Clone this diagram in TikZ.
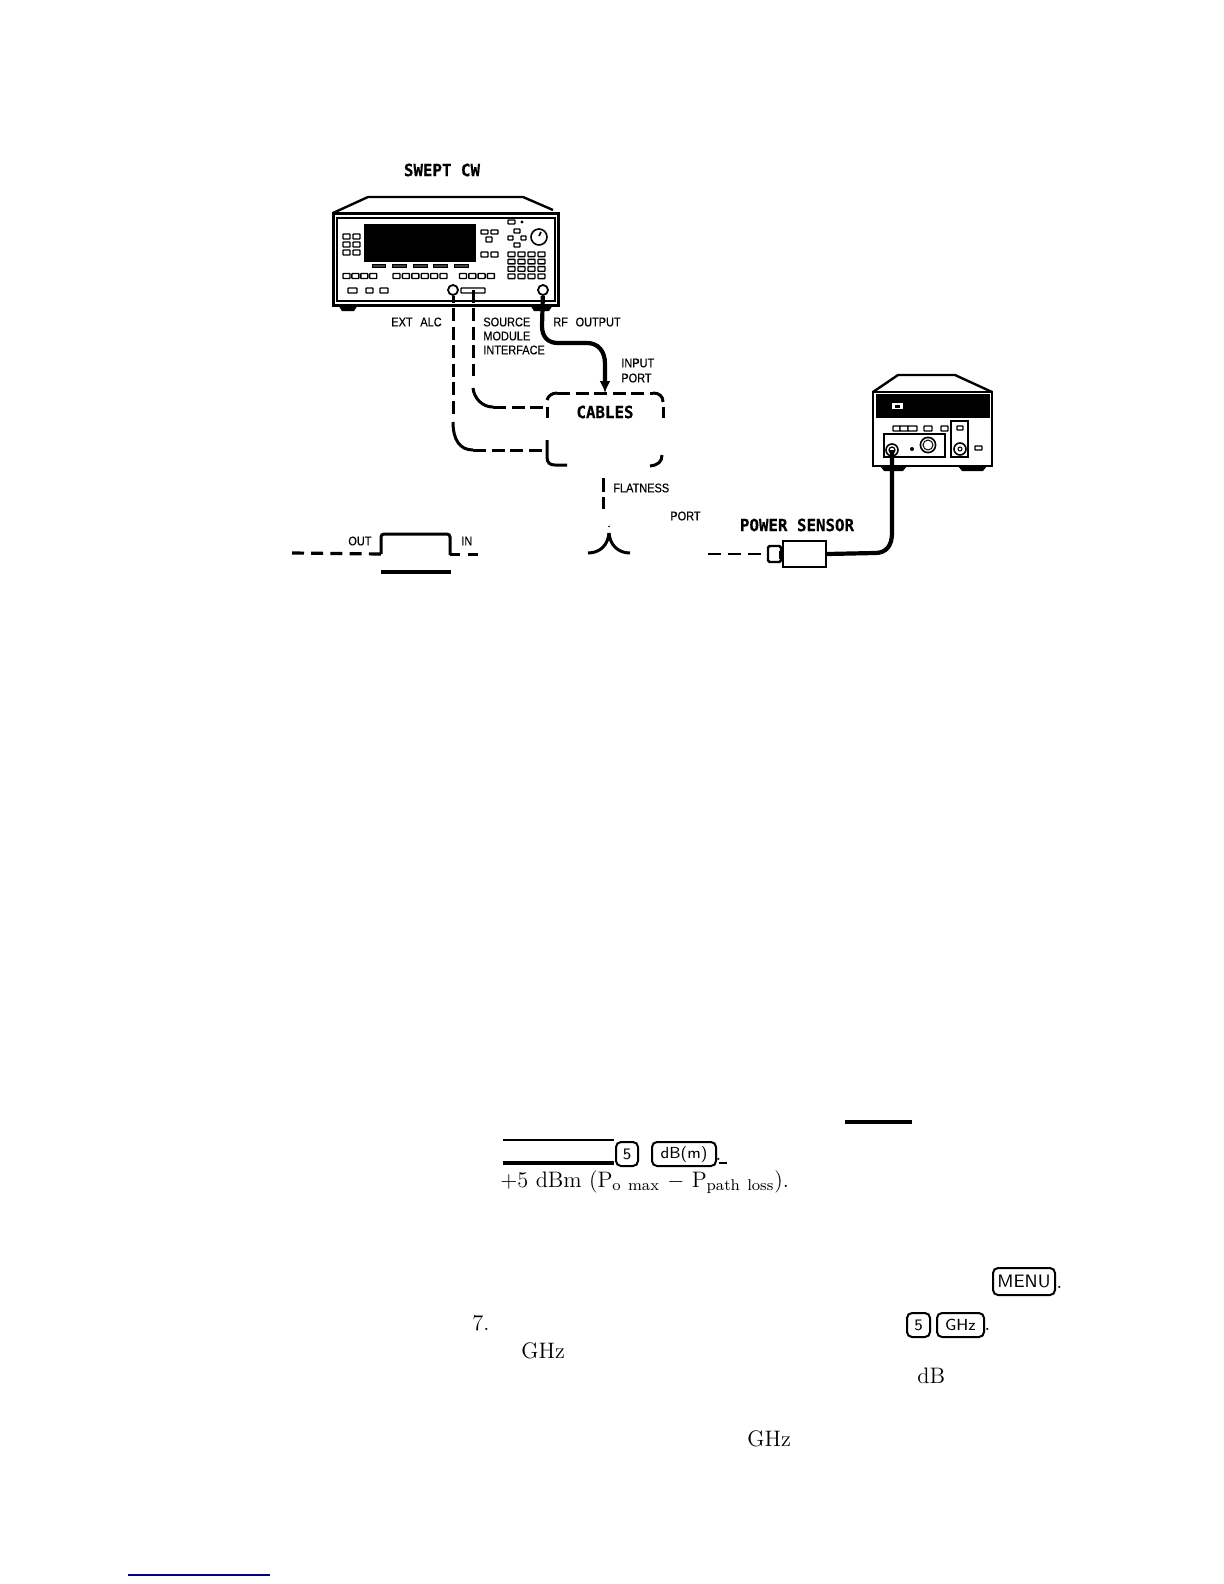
\documentclass[tikz,border=0pt]{standalone}
\usepackage{fontspec}
\usetikzlibrary{arrows.meta}
\newfontfamily\labfont{Liberation Sans}[FakeBold=0.35]
\newfontfamily\monofont{DejaVu Sans Mono}[BoldFont={DejaVu Sans Mono Bold},BoldFeatures={FakeBold=0.4}]
\tikzset{
 x=0.5pt,y=-0.5pt,
 bx/.style={draw,line width=.7pt,rounded corners=.3pt,fill=white},
 dashl/.style={line width=1.5pt,dash pattern=on 6.5pt off 2.8pt},
 solidl/.style={line width=1.5pt},
 cable/.style={line width=2.1pt},
 lab/.style={font=\labfont\fontsize{6.3}{7}\selectfont,anchor=west,inner sep=0pt,transform shape,xscale=.87},
 head/.style={font=\monofont\bfseries\fontsize{8.4}{9}\selectfont,inner sep=0pt,transform shape,xscale=.94},
 txt/.style={font=\fontsize{11.2}{13}\selectfont,inner sep=0pt,anchor=base west},
 keyb/.style={draw,line width=1pt,rounded corners=2.5pt,inner sep=0pt,font=\sffamily\fontsize{8}{10}\selectfont,anchor=north west},
 rulek/.style={line width=.7pt},
 rule/.style={line width=1.8pt},
}
\newcommand{\kbtn}[4]{\path[bx] (#1,#2) rectangle (#3,#4);}
\begin{document}
\begin{tikzpicture}
\useasboundingbox[fill=white] (0,0) rectangle (1224,1584);
% --- source instrument
\draw[line width=1.2pt,line join=round] (333,213) -- (368,197) -- (523,197) -- (553,210);
\draw[line width=.6pt] (350,213) -- (558,213);
\fill (338,305) -- (358,305) -- (354,311) -- (342,311) -- cycle;
\fill (530,305) -- (553,305) -- (549,311) -- (534,311) -- cycle;
\node[draw,line width=1.5pt,minimum width=112.5pt,minimum height=46pt,inner sep=0pt,fill=white] (src) at (445.5,259) {};
\draw[line width=.7pt] (337,218) rectangle (555,301);
\fill (364,224) rectangle (476,262);
\foreach \y in {234,242,250}{\kbtn{343}{\y}{350}{\y+5}\kbtn{353}{\y}{360}{\y+5}}
\foreach \x/\w in {372/13,392/14,413/14,433/14,454/14}{\path[fill=black!75,draw=black,line width=.3pt] (\x,264) rectangle (\x+\w,267);}
\foreach \i in {0,...,3}{\kbtn{343+8.9*\i}{273.5}{350+8.9*\i}{278.5}}
\foreach \i in {0,...,5}{\kbtn{393+9.4*\i}{273.5}{400+9.4*\i}{278.5}}
\foreach \i in {0,...,3}{\kbtn{459.5+9.3*\i}{273.5}{466.5+9.3*\i}{278.5}}
\kbtn{348}{288}{357}{293}\kbtn{366}{288}{373}{293}\kbtn{380}{288}{388}{293}
\kbtn{481}{230}{488}{234}\kbtn{491}{230}{498}{234}\kbtn{486}{237}{492}{242}
\kbtn{481}{252}{488}{257}\kbtn{491}{252}{498}{257}
\kbtn{508}{220}{515}{224}\fill (522,222) circle (.8pt);
\kbtn{514}{229}{520}{233}\kbtn{508}{236}{513}{240}\kbtn{521}{236}{526}{240}\kbtn{514}{243}{520}{247}
\draw[line width=.8pt] (539,237) circle (4pt);
\draw[line width=.8pt] (541,232) -- (539,236);
\foreach \y in {252,259.3,266.6,274}{\foreach \x in {508,518,528,538}{\kbtn{\x}{\y}{\x+7}{\y+4.6}}}
\kbtn{461}{288}{485}{293}
\node[circle,draw,line width=.9pt,minimum size=5pt,inner sep=0pt,fill=white] (alc) at (453,290) {};
\node[circle,draw,line width=.9pt,minimum size=5pt,inner sep=0pt,fill=white] (rfo) at (543,290) {};
\coordinate (smi) at (473,290);
% --- power meter
\fill (880,466) -- (907,466) -- (903,471) -- (884,471) -- cycle;
\fill (958,466) -- (987,466) -- (983,471) -- (962,471) -- cycle;
\draw[line width=1.2pt,line join=round] (873,392) -- (898,375) -- (955,375) -- (992,392);
\node[draw,line width=1.4pt,minimum width=59.5pt,minimum height=37pt,inner sep=0pt,fill=white] (pm) at (932.5,429) {};
\fill (876,394) rectangle (990,418);
\fill[white] (892,403) rectangle (903,409);
\fill (895,405) rectangle (900,408);
\kbtn{893}{426}{900}{431}\kbtn{900}{426}{908}{431}\kbtn{908}{426}{917}{431}\kbtn{924}{426}{932}{431}\kbtn{941}{426}{948}{431}
\draw[line width=.8pt] (884,434) rectangle (945,457);
\draw[line width=.8pt] (951,421) rectangle (968,457);
\kbtn{957}{426}{963}{430}\kbtn{975}{446}{982}{450}
\node[circle,draw,line width=.8pt,minimum size=6pt,inner sep=0pt] (pmc) at (892,450) {};
\draw[line width=.6pt] (892,450) circle (1.5pt);
\fill (912,449) circle (1pt);
\draw[line width=.8pt] (928,445) circle (3.8pt);\draw[line width=.5pt] (928,445) circle (2.5pt);
\draw[line width=.8pt] (960,449) circle (3pt);\draw[line width=.5pt] (960,449) circle (1pt);
% --- power sensor
\node[draw,line width=1.2pt,minimum width=21.5pt,minimum height=13pt,inner sep=0pt] (sens) at (804.5,554) {};
\draw[line width=1pt] (780,552) rectangle (783,558);
\node[draw,line width=1.2pt,rounded corners=.8pt,minimum width=6.5pt,minimum height=8pt,inner sep=0pt] (sconn) at (774.5,554) {};
% --- labels
\node[head] (t1) at (442,170) {SWEPT CW};
\node[head] (t2) at (605,412) {CABLES};
\node[head] (t3) at (797,525) {POWER SENSOR};
\node[lab] (l1) at (391,322) {EXT\hspace{.7em}ALC};
\node[lab] (l2) at (483,322) {SOURCE};
\node[lab] (l3) at (483,336) {MODULE};
\node[lab] (l4) at (483,350) {INTERFACE};
\node[lab] (l5) at (553,322) {RF\hspace{.7em}OUTPUT};
\node[lab] (l6) at (621,363) {INPUT};
\node[lab] (l7) at (621,378) {PORT};
\node[lab] (l8) at (613,488) {FLATNESS};
\node[lab] (l9) at (670,516) {PORT};
\node[lab] (l10) at (348,541) {OUT};
\node[lab] (l11) at (461,541) {IN};
% --- connectors
\coordinate (a1) at (453,308); \coordinate (a2) at (453,417);
\coordinate (a3) at (453,422); \coordinate (a4) at (473,450); \coordinate (a5) at (547,450);
\draw[dashl] (a1) -- (a2);
\draw[solidl] (a3) .. controls (453,440) and (460,450) .. (a4);
\draw[dashl] (a4) -- (a5);
\draw[solidl] (alc) -- (453,303);
\coordinate (b1) at (473,308); \coordinate (b2) at (473,376);
\coordinate (b3) at (473,388); \coordinate (b4) at (493,407); \coordinate (b5) at (547,407);
\draw[dashl] (b1) -- (b2);
\draw[solidl] (b3) .. controls (474,398) and (482,407) .. (b4);
\draw[dashl] (b4) -- (b5);
\draw[solidl] (smi) -- (473,303);
\draw[solidl] (b5) -- (547,418);
\coordinate (c1) at (547,400); \coordinate (c2) at (557,393); \coordinate (c3) at (653,393); \coordinate (c4) at (663,402);
\draw[solidl] (c1) .. controls (548,396) and (552,393) .. (c2);
\draw[dashl] (c2) -- (c3);
\draw[solidl] (c3) .. controls (659,393) and (663,396) .. (c4);
\draw[solidl] (663,407) -- (663,418);
\draw[solidl] (547,440) -- (547,457) .. controls (547,463) and (550,465) .. (555,465) -- (567,465);
\draw[solidl] (650,466) .. controls (658,465) and (662,462) .. (662,455);
\coordinate (d1) at (603,478); \coordinate (d2) at (603,509);
\draw[line width=1.5pt,dash pattern=on 7pt off 2.5pt] (d1) -- (d2);
\fill (609,526.5) circle (.4pt);
\coordinate (e0) at (609,533); \coordinate (e1) at (588,553); \coordinate (e2) at (630,553);
\draw[solidl,line join=bevel] (e1) .. controls (600,553) and (608,545) .. (e0);
\draw[solidl,line join=bevel] (e2) .. controls (618,553) and (610,545) .. (e0);
% RF cable
\draw[cable,-{Latex[length=6pt,width=5.5pt]},rounded corners=0pt] (rfo) -- (542,326) .. controls (542,337) and (548,343) .. (558,343) -- (587,343) .. controls (598,343) and (605,351) .. (605,364) -- (605,393);
% meter cable
\draw[cable] (pmc.center) -- (892,533) .. controls (892,546) and (886,553) .. (875,553) -- (sens.east);
% sensor dashes
\coordinate (f1) at (708,554);
\draw[line width=1.4pt,dash pattern=on 6.5pt off 3.5pt] (f1) -- (sconn.west);
% attenuator
\coordinate (g1) at (292,553); \coordinate (g2) at (381,554);
\draw[line width=1.6pt,dash pattern=on 6pt off 3.6pt] (g1) -- (g2);
\draw[solidl,rounded corners=1.5pt] (g2) -- (381,534) -- (450,534) -- (450,555);
\coordinate (h1) at (450,554.5); \coordinate (h2) at (479,554.5);
\draw[line width=1.4pt,dash pattern=on 5pt off 4pt] (h1) -- (h2);
\path[draw,rule] (381,572) -- (451,572);
% --- text lower part
\path[draw,rule] (845,1122) -- (912,1122);
\path[draw,rulek] (503,1140) -- (614,1140);
\path[draw,rule] (503,1163) -- (614,1163);
\node[keyb,minimum width=11pt,minimum height=12pt] (k1) at (615,1141) {5};
\node[keyb,minimum width=32pt,minimum height=12pt] (k2) at (651,1141) {dB(m)};
\node[txt] (p1) at (715,1160) {.};
\path[draw,line width=.9pt] (719,1163) -- (727,1163);
\node[txt] (s1) at (500,1187) {+5 dBm (P$_{\mathrm{o\ max}}$ $-$ P$_{\mathrm{path\ loss}}$).};
\node[keyb,minimum width=31pt,minimum height=13.5pt,font=\sffamily\fontsize{9}{11}\selectfont] (k3) at (992,1267) {MENU};
\node[txt] (p2) at (1056,1288) {.};
\node[txt] (s2) at (472,1330) {7.};
\node[keyb,minimum width=11.5pt,minimum height=12pt] (k4) at (906,1312) {5};
\node[keyb,minimum width=23.5pt,minimum height=12pt] (k5) at (936,1312) {GHz};
\node[txt] (p3) at (984,1330) {.};
\node[txt] (s3) at (521,1358) {GHz};
\node[txt] (s4) at (917,1383) {dB};
\node[txt] (s5) at (747,1446) {GHz};
\path[draw,line width=.6pt,color=blue!55!black] (128,1575) -- (270,1575);
\end{tikzpicture}
\end{document}
